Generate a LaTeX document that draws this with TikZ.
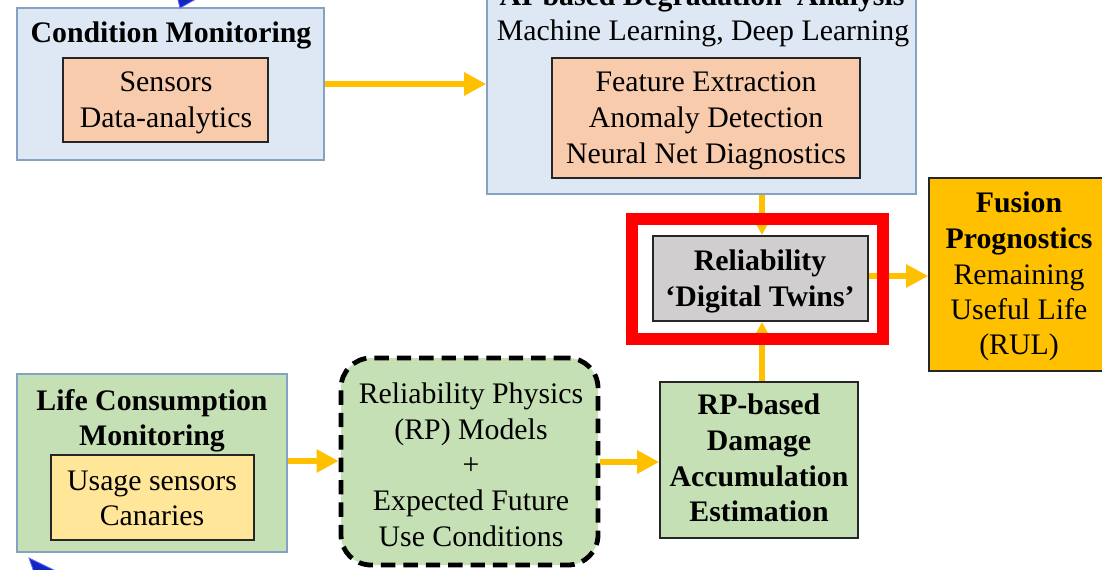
\documentclass[tikz,border=0pt]{standalone}
\usepackage{fontspec}
\setmainfont{Liberation Serif}
\usetikzlibrary{fit,arrows.meta}
\definecolor{lblue}{HTML}{DEE8F4}
\definecolor{bblue}{HTML}{86A2C3}
\definecolor{peach}{HTML}{F8CBAD}
\definecolor{dtgray}{HTML}{D0CECE}
\definecolor{gold}{HTML}{FFC000}
\definecolor{lgreen}{HTML}{C5E0B4}
\definecolor{lyellow}{HTML}{FFE699}
\definecolor{dkline}{HTML}{262626}
\definecolor{navy}{HTML}{1028C0}
\begin{document}
\begin{tikzpicture}[x=0.025cm,y=-0.025cm,
  box/.style={draw=dkline, line width=0.04cm, inner sep=0pt},
  outerbox/.style={draw=bblue, line width=0.04cm, inner sep=0pt},
  txt/.style={font=\fontsize{21.2}{25.3}\selectfont, align=center, inner sep=0pt, anchor=base},
  arr/.style={draw=gold, line width=0.15cm, -{Triangle[length=0.55cm,width=0.55cm]}}
]
\useasboundingbox (0,0) rectangle (1102,570);

% boxes
\node[outerbox, fill=lblue, fit={(17,8)(324,160)}] (cm) {};
\node[box, fill=peach, fit={(63,58)(268,142)}] (sens) {};
\node[outerbox, fill=lblue, fit={(487,-40)(916,194)}] (ai) {};
\node[box, fill=peach, fit={(552,58)(860,178)}] (feat) {};
\node[box, fill=dtgray, fit={(653,236)(868,321)}] (dt) {};
\node[box, fill=gold, fit={(929,178)(1110,371)}] (fus) {};
\node[outerbox, fill=lgreen, fit={(17,374)(287,552)}] (lcm) {};
\node[box, fill=lyellow, fit={(51,455)(254,540)}] (use) {};
\node[draw=black, fill=lgreen, line width=0.12cm, rounded corners=0.75cm,
      dash pattern=on 0.36cm off 0.2cm, inner sep=0pt, fit={(341,358)(598,565)}] (rp) {};
\node[box, fill=lgreen, fit={(660,382)(858,538)}] (rpd) {};

% texts
\node[txt] (cmt) at (171,43) {\bfseries Condition Monitoring};
\node[txt] (senst1) at (166,92) {Sensors};
\node[txt] (senst2) at (166,128) {Data-analytics};
\node[txt] (ait1) at (702,6) {\bfseries AI-based Degradation\ \ Analysis};
\node[txt] (ait2) at (703,41) {Machine Learning, Deep Learning};
\node[txt] (featt1) at (706,92) {Feature Extraction};
\node[txt] (featt2) at (706,128) {Anomaly Detection};
\node[txt] (featt3) at (706,164) {Neural Net Diagnostics};
\node[txt] (dtt1) at (760,270) {\bfseries Reliability};
\node[txt] (dtt2) at (760,306) {\bfseries `Digital Twins'};
\node[txt] (fust1) at (1019,213) {\bfseries Fusion};
\node[txt] (fust2) at (1019,248) {\bfseries Prognostics};
\node[txt] (fust3) at (1019,284) {Remaining};
\node[txt] (fust4) at (1019,319) {Useful Life};
\node[txt] (fust5) at (1019,354) {(RUL)};
\node[txt] (lcmt1) at (152,410) {\bfseries Life Consumption};
\node[txt] (lcmt2) at (152,445) {\bfseries Monitoring};
\node[txt] (uset1) at (152,490) {Usage sensors};
\node[txt] (uset2) at (152,525) {Canaries};
\node[txt] (rpt1) at (471,403) {Reliability Physics};
\node[txt] (rpt2) at (471,439) {(RP) Models};
\node[txt] (rpt3) at (471,474) {+};
\node[txt] (rpt4) at (471,510) {Expected Future};
\node[txt] (rpt5) at (471,546) {Use Conditions};
\node[txt] (rpdt1) at (759,414) {\bfseries RP-based};
\node[txt] (rpdt2) at (759,450) {\bfseries Damage};
\node[txt] (rpdt3) at (759,486) {\bfseries Accumulation};
\node[txt] (rpdt4) at (759,521) {\bfseries Estimation};

% connectors
\draw[arr] (cm.east |- 0,84) -- (ai.west |- 0,84);
\draw[arr] (ai.south -| 762,0) -- (dt.north -| 762,0);
\draw[arr] (rpd.north -| 762,0) -- (dt.south -| 762,0);
\draw[arr] (dt.east |- 0,276) -- (fus.west |- 0,276);
\draw[arr] (lcm.east |- 0,461) -- (rp.west |- 0,461);
\draw[arr] (rp.east |- 0,462) -- (rpd.west |- 0,462);

% red highlight frame
\node[draw=red, line width=0.3cm, inner sep=0pt, fit={(632,219)(883,339)}] (hl) {};

% blue arrow fragments at the edges
\fill[navy, draw=blue!60!white, line width=0.02cm] (180,8) -- (177,-4) -- (196,-1) -- cycle;
\fill[navy, draw=blue!60!white, line width=0.02cm] (29,558) -- (58,572) -- (38,584) -- cycle;
\end{tikzpicture}
\end{document}
